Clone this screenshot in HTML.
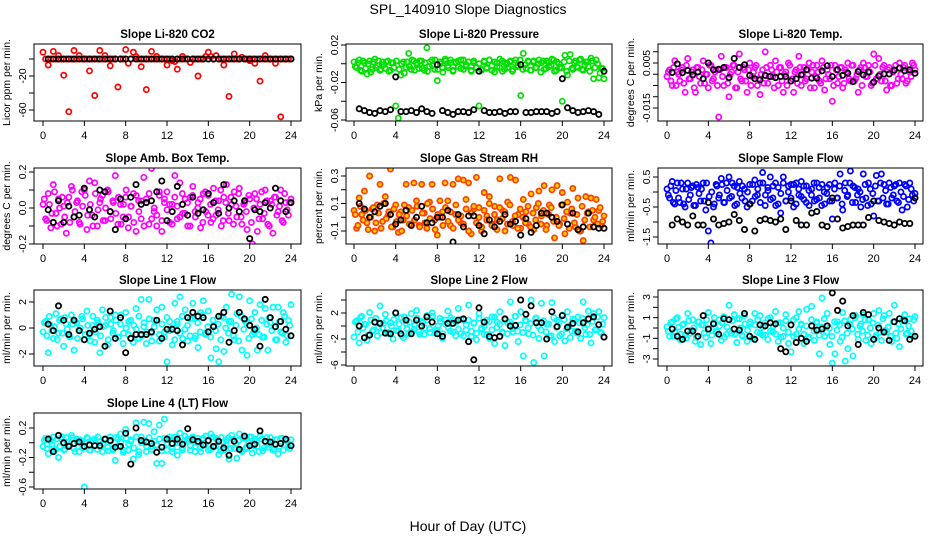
<!DOCTYPE html>
<html><head><meta charset="utf-8"><style>
html,body{margin:0;padding:0;background:#fff;}
svg{display:block;font-family:"Liberation Sans",sans-serif;}
</style></head><body>
<svg id="chart" width="936" height="540" viewBox="0 0 936 540" xmlns="http://www.w3.org/2000/svg">
<text x="468" y="14" text-anchor="middle" font-size="14">SPL_140910  Slope Diagnostics</text>
<text x="468" y="531" text-anchor="middle" font-size="14">Hour of Day (UTC)</text>
</svg>
<script>
// colored series A: values every 0.25 h from 0 to 24; series B: evenly offset between; black series: every 0.5 h from 0.5 to 24
const xTicks = [0,4,8,12,16,20,24];
const co2Red = [8,0,-7,0, 9,0,4,0, -19,0,-62,0, 10,0,4,0, 0,0,-14,0, -43,0,10,0, 4,0,-8,0, 0,-33,0,0, 11,-5,0,8, 3,0,-9,0, -36,0,9,0, 3,0,0,0, -7,0,-2,-3, -12,0,3,0, 0,-4,0,0, -20,0,0,3, 8,3,0,4, 0,0,-7,0, -44,0,6,0, 0,2,0,0, -2,0,-5,0, -26,0,4,0, 0,0,-5,0, -68,0,0,0, 0];
const co2RedB = [];
const co2Black = [0,0,0,0,0,0,0,0,0,0,0,0,0,0,0,0,0,0,0,0,0,0,0,0,0,0,0,0,0,0,0,0,0,0,0,0,0,0,0,0,0,0,0,0,0,0,0,0];
const presGreen = [0.002,-0.004,0.004,-0.008, 0.001,-0.011,0.003,-0.006, 0.005,-0.002,-0.007,0.002, -0.005,0.003,-0.007,0.001, -0.045,-0.058,-0.012,0.002, -0.004,0.011,-0.006,0.003, 0.001,-0.005,0.003,-0.007, 0.017,-0.003,0.004,-0.006, -0.018,0.002,-0.004,0.005, -0.002,0.004,-0.008,0.001, 0.003,-0.005,0.004,-0.003, 0.002,-0.007,0.001,-0.004, -0.045,-0.006,0.003,-0.004, 0.004,-0.007,0.002,-0.003, 0.005,-0.008,0.001,-0.004, 0.003,-0.006,0.004,-0.002, -0.034,0.011,-0.005,0.002, -0.007,0.003,-0.004,0.004, 0.001,-0.006,0.003,-0.003, 0.005,-0.008,0.002,-0.004, -0.04,0.009,-0.012,0.01, -0.006,0.003,-0.004,0.005, -0.007,0.002,-0.003,0.006, -0.016,0.004,-0.015,-0.005, -0.016];
const presGreenB = [-0.003,0.001,-0.007,0.003,-0.005,0.0,-0.009,0.002,-0.004,0.003,-0.006,-0.001,0.002,-0.008,0.001,-0.004,0.003,-0.006,0.0,-0.01,0.002,-0.003,0.004,-0.007,-0.001,0.003,-0.005,0.001,-0.008,0.002,-0.002,0.004,-0.006,0.0,-0.009,0.003,-0.004,0.001,-0.007,0.002,-0.003,0.004,-0.006,-0.001,0.002,-0.008,0.003,-0.004,0.0,-0.007,0.002,-0.005,0.004,-0.002,-0.009,0.001,-0.004,0.003,-0.006,0.0,0.002,-0.008,0.001,-0.003,0.004,-0.006,-0.001,0.003,-0.007,0.002,-0.004,0.0,-0.009,0.003,-0.005,0.001,-0.002,0.004,-0.007,0.0,-0.004,0.002,-0.008,0.003,-0.005,0.001,-0.003,0.004,-0.006,-0.001,0.002,-0.008,0.003,-0.004,0.0,-0.01,-0.005];
const presBlack = [-0.048,-0.05,-0.052,-0.053,-0.05,-0.051,-0.049,-0.014,-0.051,-0.051,-0.05,-0.052,-0.048,-0.051,-0.053,-0.001,-0.05,-0.052,-0.054,-0.051,-0.051,-0.052,-0.049,-0.008,-0.05,-0.052,-0.052,-0.051,-0.053,-0.051,-0.051,-0.001,-0.052,-0.052,-0.051,-0.051,-0.051,-0.053,-0.051,-0.016,-0.047,-0.05,-0.052,-0.051,-0.05,-0.051,-0.054,-0.008];
const tempMag = [-0.001,0.002,-0.005,0.006, 0.001,-0.003,0.003,-0.008, 0.007,-0.002,0.002,-0.008, 0.003,-0.004,0.006,0.000, -0.006,0.004,-0.002,0.002, -0.019,0.008,-0.005,0.003, -0.010,0.001,0.004,-0.006, 0.009,-0.003,0.002,-0.008, 0.005,-0.001,0.003,-0.005, -0.009,0.002,0.010,-0.004, 0.004,-0.001,0.006,-0.005, 0.003,-0.008,0.001,0.005, -0.003,-0.008,0.002,0.008, -0.005,0.003,-0.002,0.005, 0.001,-0.006,0.004,-0.003, 0.006,-0.007,0.002,-0.002, -0.012,0.004,-0.004,0.003, -0.006,0.002,0.005,-0.003, 0.004,-0.002,-0.008,0.003, 0.005,-0.001,0.004,-0.005, 0.009,-0.002,0.007,-0.003, 0.004,-0.007,0.003,-0.005, 0.002,-0.004,0.005,-0.002, 0.004,-0.003,0.001,0.005, 0.002];
const tempMagB = [0.001,-0.003,0.003,-0.005,0.0,0.002,-0.004,0.004,-0.002,0.001,-0.006,0.003,-0.001,0.002,-0.004,0.0,0.004,-0.003,0.001,-0.005,0.002,-0.001,0.003,-0.004,0.0,0.004,-0.006,0.001,-0.002,0.003,-0.003,0.002,-0.005,0.001,0.004,-0.002,0.0,-0.004,0.003,-0.001,0.002,-0.006,0.001,0.003,-0.003,0.0,-0.005,0.004,-0.002,0.001,-0.004,0.003,0.0,-0.003,0.002,-0.006,0.004,-0.001,0.001,-0.004,0.003,-0.002,0.0,0.004,-0.005,0.002,-0.001,0.003,-0.004,0.001,-0.002,0.004,-0.003,0.0,0.002,-0.005,0.003,-0.001,0.001,-0.004,0.004,-0.002,0.0,0.003,-0.003,0.002,-0.005,0.001,0.004,-0.002,0.0,0.003,-0.004,0.002,-0.001,0.004];
const tempBlack = [0.0008,0.0046,0.0007,0.0017,-0.0003,0.001,-0.002,0.005,0.002,0.0022,0.003,-0.0015,0.007,0.003,0.0042,-0.0005,-0.002,-0.0025,-0.0005,-0.001,-0.0015,-0.001,-0.001,-0.003,-0.002,-0.0003,0.002,-0.0017,-0.0017,0.0015,0.0038,-0.001,0.002,-0.0005,0.0005,-0.0033,0.0012,-0.0003,0.001,-0.0035,-0.0008,0.0001,0.0001,0.0018,0.0028,0.0016,0.002,0.0004];
const ambMag = [0.02,-0.06,0.08,-0.11, 0.13,-0.03,0.05,-0.09, 0.01,-0.14,0.06,0.12, -0.05,0.03,-0.08,0.09, 0.1,-0.12,0.15,-0.04, 0.14,-0.1,0.03,0.07, -0.07,0.1,-0.02,0.04, 0.18,-0.09,0.02,-0.05, 0.06,-0.11,0.01,0.08, -0.13,0.04,-0.06,0.17, 0.05,-0.09,0.22,-0.02, -0.1,0.07,-0.13,0.03, 0.09,-0.08,0.02,0.18, -0.06,0.14,-0.03,0.05, -0.1,0.06,0.12,-0.05, 0.03,-0.11,0.08,-0.02, 0.07,-0.08,0.11,-0.04, 0.04,-0.1,0.06,0.13, -0.07,0.02,0.09,-0.05, 0.11,-0.09,0.03,-0.12, 0.05,-0.2,0.08,-0.13, 0.02,-0.06,0.1,-0.09, 0.04,-0.14,0.06,-0.02, 0.1,-0.08,0.03,-0.04, 0.05];
const ambMagB = [0.05,-0.07,0.02,-0.03,0.09,-0.1,0.0,0.06,-0.05,0.03,-0.08,0.1,-0.02,0.04,-0.09,0.01,0.07,-0.04,0.02,-0.1,0.08,-0.01,0.05,-0.07,0.0,0.09,-0.06,0.03,-0.03,0.06,-0.09,0.02,0.1,-0.05,0.01,-0.08,0.07,-0.02,0.04,-0.1,0.03,0.08,-0.06,0.0,-0.04,0.09,-0.07,0.05,-0.01,0.02,-0.09,0.06,0.01,-0.05,0.08,-0.03,0.03,-0.1,0.07,-0.02,0.0,0.05,-0.08,0.09,-0.04,0.02,-0.06,0.04,-0.01,0.1,-0.07,0.03,-0.03,0.06,-0.09,0.01,0.08,-0.05,0.02,-0.02,0.07,-0.08,0.0,0.05,-0.06,0.09,-0.03,0.04,-0.1,0.02,0.06,-0.04,0.01,-0.07,0.08,-0.01,0.03];
const ambBlack = [-0.01,-0.08,0.04,-0.08,0.01,-0.05,-0.04,0.11,-0.01,-0.05,0.1,0.09,-0.02,-0.12,0.05,-0.06,0.06,0.13,0.02,0.03,0.04,0.09,0.15,-0.07,-0.02,0.12,0.02,-0.04,0.06,-0.03,-0.01,0.08,0.03,-0.03,0.13,0.0,0.04,-0.02,0.04,-0.17,-0.01,-0.02,0.03,0.0,0.11,0.04,-0.02,0.03];
const rhOrange = [0.05,-0.08,0.14,0.02, 0.19,-0.04,0.3,0.06, -0.1,0.09,0.24,-0.03, 0.15,0.01,0.35,-0.07, 0.09,-0.11,0.04,-0.02, 0.24,0.07,-0.05,0.25, 0.12,-0.06,0.24,0.03, -0.08,0.11,0.24,-0.02, -0.13,0.12,0.04,0.25, 0.12,-0.06,0.24,0.02, 0.28,-0.04,0.27,0.13, 0.25,-0.12,0.06,0.29, 0.07,-0.1,0.18,0.01, 0.15,-0.05,0.08,-0.02, 0.28,0.05,-0.1,0.11, 0.29,-0.06,0.27,0.02, -0.08,0.13,0.04,-0.05, 0.17,-0.09,0.07,0.19, 0.01,0.23,-0.06,0.09, 0.2,-0.15,0.23,-0.05, 0.18,-0.12,0.11,0.03, 0.21,-0.07,0.14,-0.1, -0.17,0.15,0.04,0.14, -0.02,0.13,0.05,-0.06, 0.01];
const rhOrangeB = [0.02,-0.06,0.08,-0.02,0.05,-0.09,0.0,0.07,-0.04,0.03,-0.08,0.1,-0.01,0.04,-0.07,0.06,-0.03,0.02,-0.1,0.09,0.01,-0.05,0.05,-0.02,0.08,-0.07,0.03,-0.04,0.1,-0.01,0.06,-0.09,0.02,0.0,-0.06,0.07,-0.03,0.04,-0.08,0.09,-0.02,0.01,-0.05,0.06,-0.1,0.03,0.08,-0.04,0.0,-0.07,0.05,-0.02,0.1,-0.06,0.02,-0.09,0.07,-0.01,0.04,-0.05,0.09,-0.03,0.01,-0.08,0.06,0.0,-0.04,0.08,-0.07,0.03,-0.02,0.1,-0.05,0.05,-0.09,0.02,0.07,-0.03,0.0,-0.06,0.09,-0.01,0.04,-0.08,0.06,-0.04,0.02,-0.1,0.08,-0.02,0.03,-0.07,0.05,0.0,-0.05,0.07,-0.03];
const rhBlack = [0.1,0.06,0.0,0.04,0.08,0.1,0.02,-0.05,-0.02,0.05,-0.06,0.0,0.08,-0.04,-0.04,0.0,0.0,0.05,-0.18,0.02,-0.07,0.01,0.01,-0.06,-0.12,-0.02,-0.07,-0.03,0.02,-0.05,-0.03,-0.13,-0.01,-0.11,-0.06,0.03,0.03,0.0,-0.03,0.09,-0.05,0.03,-0.09,-0.07,0.03,-0.07,-0.08,-0.08];
const sampleBlue = [0.1,-0.2,0.35,-0.4, 0.3,-0.35,0.1,-0.5, 0.3,-0.1,0.2,-0.45, 0.15,-0.3,0.3,-0.6, -1.3,-1.7,-0.5,0.25, -0.2,0.45,-0.35,0.3, 0.5,-0.15,0.2,-0.4, 0.35,-0.2,0.1,-0.5, 0.25,-0.3,0.4,-0.1, 0.3,0.65,-0.45,0.15, 0.5,-0.2,0.3,-0.4, -0.7,0.5,-0.3,0.2, 0.25,-0.5,0.3,-0.1, 0.35,-0.25,0.2,-0.45, 0.1,-0.3,0.3,-0.2, 0.25,-0.4,0.15,-0.3, -0.9,0.3,-0.2,0.6, -0.6,0.3,-0.1,0.7, 0.2,-0.35,0.1,-0.5, 0.6,-0.2,0.3,-0.4, -0.8,0.55,-0.3,0.6, 0.25,-0.4,0.3,-0.2, 0.2,-0.3,0.3,-0.6, 0.25,-0.5,0.3,-0.1, -0.05];
const sampleBlueB = [-0.1,0.2,-0.35,0.05,-0.2,0.3,-0.4,0.1,-0.25,0.15,-0.45,0.25,-0.05,0.1,-0.3,0.3,-0.15,0.0,-0.4,0.2,-0.1,0.25,-0.35,0.05,-0.2,0.3,-0.45,0.15,-0.05,0.2,-0.3,0.0,-0.4,0.25,-0.15,0.1,-0.35,0.3,-0.1,0.05,-0.25,0.2,-0.45,0.15,-0.05,0.3,-0.3,0.0,-0.2,0.25,-0.4,0.1,-0.15,0.2,-0.35,0.05,-0.1,0.3,-0.25,0.15,-0.45,0.0,-0.05,0.25,-0.3,0.1,-0.2,0.2,-0.4,0.05,-0.15,0.3,-0.35,0.15,-0.1,0.0,-0.25,0.25,-0.45,0.1,-0.05,0.2,-0.3,0.3,-0.2,0.05,-0.4,0.15,-0.1,0.25,-0.35,0.0,-0.15,0.2,-0.25,0.1,-0.3];
const sampleBlack = [-1.1,-0.9,-1.0,-1.1,-0.8,-1.1,-1.1,-0.35,-0.9,-1.1,-1.05,-1.0,-0.75,-0.95,-1.25,-0.4,-1.3,-0.95,-0.9,-0.95,-1.0,-0.9,-1.25,-0.3,-0.95,-1.1,-1.1,-0.7,-0.65,-1.1,-1.15,-0.2,-0.9,-1.2,-1.15,-1.1,-1.1,-1.1,-0.85,-0.3,-0.95,-1.0,-1.05,-1.1,-1.0,-1.05,-1.05,-0.2];
const line1Cyan = [-0.3,0.5,-1.9,0.2, -0.8,1.1,-0.4,0.7, -1.4,0.3,-0.6,1.0, -1.7,0.4,-0.2,0.9, -0.9,1.3,-0.5,0.2, -1.1,0.6,-1.9,1.4, 0.2,-1.3,0.8,-0.4, 1.0,-0.7,0.3,-1.2, 1.2,-0.5,0.6,-1.1, 1.5,-0.8,2.2,0.1, -1.2,2.2,-0.4,0.6, 1.4,-1.0,1.6,-0.3, -2.6,0.5,-1.3,1.9, 0.3,2.4,-0.8,1.4, -1.0,0.7,1.9,-0.6, -1.5,1.2,2.1,-0.4, 1.3,-2.3,0.2,-1.6, -2.6,0.9,-1.8,1.6, 0.5,2.6,-0.9,1.1, 2.4,-1.7,0.6,-2.1, 2.1,-0.5,1.2,-1.7, 1.8,-0.7,1.5,-1.7, 0.4,1.6,-0.9,1.6, -0.3,1.2,-1.1,0.6, 1.8];
const line1CyanB = [0.4,-0.6,0.9,-0.2,0.1,-0.9,0.6,-0.4,0.8,-0.1,-0.7,0.3,0.5,-0.8,0.0,0.7,-0.5,0.2,-1.0,0.9,-0.3,0.4,-0.6,0.1,0.8,-0.9,0.3,-0.2,0.6,-0.7,1.0,-0.4,0.0,0.5,-0.8,0.2,-0.1,0.9,-0.6,0.4,-0.3,0.7,-1.0,0.1,0.6,-0.5,0.3,-0.7,0.8,-0.2,0.0,-0.9,0.5,-0.4,0.9,-0.1,0.2,-0.6,0.7,-0.8,0.4,-0.3,1.0,-0.5,0.1,-0.7,0.6,-0.2,0.3,-0.9,0.8,0.0,-0.4,0.5,-0.6,0.2,-1.0,0.9,-0.1,0.4,-0.8,0.7,-0.3,0.0,-0.5,0.6,-0.7,0.3,0.8,-0.2,0.1,-0.9,0.5,-0.4,0.9,-0.6,0.2];
const line1Black = [0.3,-0.2,1.7,0.6,-0.5,0.6,-0.2,-0.9,-0.4,-0.1,0.1,-1.4,1.3,-0.8,0.8,-1.9,-0.8,-0.5,-0.5,-0.5,-0.3,0.6,-0.8,-0.1,-0.1,-0.2,-1.3,0.8,1.2,0.9,0.8,-0.3,0.1,0.9,1.2,-1.1,-0.2,1.2,0.7,0.2,-0.1,-1.4,2.2,0.8,0.1,0.5,-0.1,-0.6];
const line2Cyan = [-1.7,0.8,-2.6,1.5, 0.3,-2.2,2.1,-0.8, 0.6,-1.5,3.1,-0.3, 1.8,-1.0,0.5,-2.0, 2.1,-0.7,1.3,-1.8, 0.4,-1.2,1.9,-0.5, 2.4,-0.9,0.7,-1.3, 1.6,-0.4,2.0,-1.1, -0.6,1.2,-1.9,0.9, 2.3,-0.8,1.0,-1.5, 2.7,-1.2,1.1,-0.6, 3.2,-1.6,0.5,-2.1, 1.9,-0.5,-1.3,0.9, -1.9,1.4,-2.7,0.6, 2.2,-1.1,-3.0,0.5, 3.7,-0.9,1.5,-2.4, 2.2,-4.6,0.8,-1.2, 4.0,-5.6,1.2,-1.9, 3.5,-4.6,0.3,-1.6, 3.6,-2.4,0.9,-1.5, 1.7,-2.3,2.2,-1.8, 1.1,-0.8,1.4,-1.9, 3.7,-1.3,2.3,-2.6, 1.9,-0.5,2.2,-1.1, 1.3];
const line2CyanB = [0.6,-0.9,1.3,-0.3,0.2,-1.4,0.9,-0.6,1.2,-0.2,-1.0,0.4,0.8,-1.2,0.0,1.0,-0.7,0.3,-1.5,1.4,-0.4,0.6,-0.9,0.1,1.2,-1.3,0.5,-0.3,0.9,-1.0,1.5,-0.6,0.0,0.7,-1.2,0.3,-0.2,1.3,-0.9,0.6,-0.5,1.0,-1.5,0.2,0.9,-0.8,0.4,-1.1,1.2,-0.3,0.0,-1.3,0.7,-0.6,1.4,-0.2,0.3,-0.9,1.0,-1.2,0.6,-0.4,1.5,-0.8,0.2,-1.0,0.9,-0.3,0.4,-1.4,1.2,0.0,-0.6,0.8,-0.9,0.3,-1.5,1.3,-0.2,0.6,-1.2,1.0,-0.4,0.0,-0.8,0.9,-1.1,0.5,1.2,-0.3,0.2,-1.3,0.7,-0.6,1.4,-0.9,0.3];
const line2Black = [0.0,-1.8,-1.4,0.6,0.4,-1.1,-1.2,2.0,-1.2,0.9,-1.2,0.9,0.0,1.4,0.6,-1.2,-1.6,0.4,0.4,0.9,1.1,-2.4,-5.2,2.8,0.6,-1.6,-1.8,-1.6,1.1,0.0,0.1,4.0,1.8,3.1,0.5,0.5,-2.0,2.2,-0.1,1.6,-0.2,0.4,-0.9,0.5,1.1,1.4,0.2,-1.7];
const line3Cyan = [0.1,-0.8,0.6,-0.4, 1.0,-1.1,0.3,-0.7, 1.4,-0.5,0.8,-1.3, 0.6,-1.6,0.3,-0.9, 1.5,-1.5,0.5,-0.3, 0.8,-1.2,1.1,-0.6, 2.2,-0.5,1.3,-1.4, 0.9,-0.7,1.2,-1.3, 0.4,-1.0,1.4,-0.4, 1.2,-0.7,0.5,-1.1, 1.0,-0.4,1.6,-1.3, 0.5,-0.8,1.3,-1.5, -2.3,0.8,-0.6,1.6, 0.3,-1.5,1.8,-0.9, 2.1,-1.2,0.6,-2.5, 2.9,-0.8,1.4,-1.6, -3.4,-2.5,0.6,-1.3, 1.5,-3.2,-2.0,0.8, -2.7,1.2,-1.1,0.4, 1.3,-1.2,0.8,-1.5, 1.4,-0.7,1.7,-1.2, 1.2,-0.4,1.4,-1.3, 2.2,-1.0,-1.8,0.7, 1.3,-0.5,0.9,-0.8, 1.1];
const line3CyanB = [-0.3,0.5,-0.8,0.9,0.1,-0.6,0.4,-1.0,0.7,-0.2,0.0,-0.9,0.6,0.3,-0.5,0.8,-0.1,-0.7,1.0,-0.4,0.2,0.5,-0.9,0.1,-0.3,0.7,-0.6,0.9,0.0,-0.8,0.4,-0.2,0.6,-1.0,0.3,0.8,-0.5,0.1,-0.7,0.9,-0.3,0.2,-0.6,0.5,-0.9,0.0,0.7,-0.4,0.3,-0.8,1.0,-0.1,0.4,-0.6,0.2,-1.0,0.8,-0.3,0.5,-0.7,0.1,0.9,-0.4,0.0,-0.8,0.6,-0.2,0.3,-0.9,0.7,-0.5,0.4,-0.1,1.0,-0.6,0.2,-0.3,0.8,-0.7,0.0,0.5,-0.9,0.3,-0.4,0.9,-0.2,0.1,-0.8,0.6,-0.5,0.4,-0.1,0.7,-0.6,0.2,-0.3,0.8];
const line3Black = [-0.1,-0.8,-1.1,-0.3,-0.3,-0.8,1.2,-0.1,0.4,-0.6,0.9,0.8,-0.1,-0.2,1.4,-0.8,-1.1,0.3,0.2,0.5,0.4,-2.0,-2.3,0.3,-1.4,-1.0,-1.3,0.2,-0.2,-0.1,0.2,3.4,1.7,2.6,0.2,1.2,-1.6,1.5,1.3,-1.1,0.0,-0.4,-1.2,0.6,0.9,0.7,-1.1,-0.8];
const line4Cyan = [-0.05,0.06,-0.15,0.02, 0.08,-0.09,-0.2,0.05, -0.1,0.07,-0.03,0.1, -0.08,0.05,-0.12,0.02, -0.6,0.07,-0.1,0.03, 0.05,-0.09,0.01,-0.12, 0.04,-0.06,0.08,-0.1, -0.24,0.05,0.12,-0.13, 0.18,-0.1,0.02,-0.22, 0.27,-0.16,0.08,0.28, -0.12,0.26,-0.05,0.15, -0.28,0.24,-0.28,0.32, -0.1,0.08,-0.12,0.04, -0.17,0.13,-0.07,0.09, 0.02,-0.1,0.08,-0.05, 0.06,-0.12,0.04,0.09, -0.1,0.12,-0.06,0.06, -0.16,0.07,-0.1,0.03, -0.22,0.1,-0.08,-0.21, 0.12,-0.12,0.06,-0.08, 0.08,-0.14,0.05,-0.05, 0.09,-0.11,0.02,-0.06, 0.07,-0.1,0.04,-0.15, 0.06,-0.1,0.03,-0.05, 0.04];
const line4CyanB = [0.03,-0.08,0.06,-0.02,-0.11,0.05,-0.05,0.08,-0.09,0.01,-0.04,0.07,-0.12,0.02,0.04,-0.07,0.0,0.06,-0.1,0.03,-0.03,0.08,-0.06,-0.01,0.05,-0.11,0.02,-0.08,0.07,-0.04,0.01,-0.1,0.06,-0.02,0.04,-0.07,0.08,-0.12,0.0,0.03,-0.05,0.07,-0.09,0.02,-0.03,0.05,-0.11,0.06,-0.01,0.04,-0.08,0.08,-0.06,0.01,-0.1,0.03,0.05,-0.04,0.07,-0.12,0.0,-0.07,0.06,-0.02,0.02,-0.09,0.08,-0.05,0.04,-0.11,0.01,-0.03,0.07,-0.08,0.05,-0.01,0.03,-0.1,0.06,-0.06,0.0,0.08,-0.04,0.02,-0.12,0.05,-0.07,0.07,-0.02,0.01,-0.09,0.04,-0.05,0.06,-0.03,0.03,-0.08];
const line4Black = [0.05,-0.12,0.1,0.0,-0.05,-0.01,0.01,-0.05,-0.03,-0.04,-0.04,0.05,0.03,-0.06,-0.05,0.13,-0.29,0.2,0.03,0.01,-0.01,-0.13,-0.06,0.05,-0.01,0.05,-0.02,0.19,0.04,0.02,-0.03,0.03,-0.05,0.02,-0.07,-0.17,0.02,-0.09,0.09,-0.04,-0.02,0.16,0.02,0.01,-0.02,-0.01,0.05,-0.04];

const panels = [
 {name:'co2',title:'Slope Li-820 CO2',ylab:'Licor ppm per min.',col:0,row:0,y0:0,p0:59,y1:-60,p1:110,ticks:[0,-20,-40,-60],labels:['','-20','','-60'],color:'#ff0000',vals:co2Red,valsB:co2RedB,blk:co2Black,fill:'none',fs:10.5},
 {name:'pressure',title:'Slope Li-820 Pressure',ylab:'kPa per min.',col:1,row:0,y0:0.02,p0:45,y1:-0.06,p1:120,ticks:[0.02,0,-0.02,-0.04,-0.06],labels:['0.02','','-0.02','','-0.06'],color:'#00e000',vals:presGreen,valsB:presGreenB,blk:presBlack,fill:'none',fs:10.5},
 {name:'temp',title:'Slope Li-820 Temp.',ylab:'degrees C per min.',col:2,row:0,y0:0.005,p0:63,y1:-0.015,p1:108,ticks:[0.01,0.005,0,-0.005,-0.01,-0.015],labels:['','0.005','','','','-0.015'],color:'#ff00ff',vals:tempMag,valsB:tempMagB,blk:tempBlack,fill:'none',fs:10.5},
 {name:'amb-temp',title:'Slope Amb. Box Temp.',ylab:'degrees C per min.',col:0,row:1,y0:0.2,p0:172,y1:-0.2,p1:244,ticks:[0.2,0.1,0,-0.1,-0.2],labels:['0.2','','0.0','','-0.2'],color:'#ff00ff',vals:ambMag,valsB:ambMagB,blk:ambBlack,fill:'none',fs:10.5},
 {name:'rh',title:'Slope Gas Stream RH',ylab:'percent per min.',col:1,row:1,y0:0.3,p0:176,y1:-0.1,p1:231,ticks:[0.3,0.2,0.1,0,-0.1],labels:['0.3','','0.1','','-0.1'],color:'#ff4000',vals:rhOrange,valsB:rhOrangeB,blk:rhBlack,fill:'#ffd000',fs:10.5},
 {name:'sample-flow',title:'Slope Sample Flow',ylab:'ml/min per min.',col:2,row:1,y0:0.5,p0:177,y1:-1.5,p1:237,ticks:[0.5,0,-0.5,-1,-1.5],labels:['0.5','','-0.5','','-1.5'],color:'#0000ff',vals:sampleBlue,valsB:sampleBlueB,blk:sampleBlack,fill:'none',fs:10.5},
 {name:'line1',title:'Slope Line 1 Flow',ylab:'ml/min per min.',col:0,row:2,y0:2,p0:302,y1:-2,p1:354,ticks:[2,0,-2],labels:['2','0','-2'],color:'#00ffff',vals:line1Cyan,valsB:line1CyanB,blk:line1Black,fill:'none',fs:10.5},
 {name:'line2',title:'Slope Line 2 Flow',ylab:'ml/min per min.',col:1,row:2,y0:2,p0:313,y1:-2,p1:339,ticks:[4,2,0,-2,-4,-6],labels:['','2','','-2','','-6'],color:'#00ffff',vals:line2Cyan,valsB:line2CyanB,blk:line2Black,fill:'none',fs:10.5},
 {name:'line3',title:'Slope Line 3 Flow',ylab:'ml/min per min.',col:2,row:2,y0:3,p0:297,y1:-3,p1:359,ticks:[3,2,1,0,-1,-2,-3],labels:['3','','1','','-1','','-3'],color:'#00ffff',vals:line3Cyan,valsB:line3CyanB,blk:line3Black,fill:'none',fs:10.5},
 {name:'line4',title:'Slope Line 4 (LT) Flow',ylab:'ml/min per min.',col:0,row:3,y0:0.2,p0:428,y1:-0.6,p1:487,ticks:[0.2,0,-0.2,-0.4,-0.6],labels:['0.2','','-0.2','','-0.6'],color:'#00ffff',vals:line4Cyan,valsB:line4CyanB,blk:line4Black,fill:'none',fs:10.5}
];
const colL=[34,346,658], colR=[301,612,923], colX0=[43,354,667], colX24=[291,604,915];
const rowT=[44,168,290,413], rowB=[121,244,366,489];
const NS='http://www.w3.org/2000/svg';
const svg=document.getElementById('chart');
function mk(tag,attrs,parent){const e=document.createElementNS(NS,tag);for(const k in attrs)e.setAttribute(k,attrs[k]);(parent||svg).appendChild(e);return e;}
panels.forEach(p=>{
  const L=colL[p.col],R=colR[p.col],T=rowT[p.row],B=rowB[p.row];
  const xs=h=>colX0[p.col]+(colX24[p.col]-colX0[p.col])*h/24;
  const ys=v=>p.p0+(v-p.y0)*(p.p1-p.p0)/(p.y1-p.y0);
  const g=mk('g',{});
  
  
  const cp=mk('clipPath',{id:'clip-'+p.name},g);
  mk('rect',{x:L,y:T,width:R-L,height:B-T},cp);
  const t=mk('text',{x:(L+R)/2,y:T-6,'text-anchor':'middle','font-size':'11.5','font-weight':'bold'},g);
  t.textContent=p.title;
  
  
  const yl=mk('text',{transform:`translate(${L-24},${(T+B)/2}) rotate(-90)`,'text-anchor':'middle','font-size':'10.5'},g);
  yl.textContent=p.ylab;
  
  
  const pts=mk('g',{'clip-path':`url(#clip-${p.name})`},g);
  
  
  p.vals.forEach((v,i)=>{
    const c=mk('circle',{cx:xs(i*24/(p.vals.length-1)).toFixed(1),cy:ys(v).toFixed(1),r:2.6,fill:p.fill,stroke:p.color,'stroke-width':1.7},pts);
    
    
  });
  p.valsB.forEach((v,i)=>{
    const c=mk('circle',{cx:xs((i+0.5)*24/p.valsB.length).toFixed(1),cy:ys(v).toFixed(1),r:2.6,fill:p.fill,stroke:p.color,'stroke-width':1.7},pts);
    
    
  });
  p.blk.forEach((v,i)=>{
    const c=mk('circle',{cx:xs(0.5+i*23.5/(p.blk.length-1)).toFixed(1),cy:ys(v).toFixed(1),r:2.6,fill:'none',stroke:'#000','stroke-width':1.8},pts);
    
    
  });
  const box=mk('rect',{x:L,y:T,width:R-L,height:B-T,fill:'none',stroke:'#000','stroke-width':1},g);
  
  
  xTicks.forEach(h=>{
    mk('line',{x1:xs(h),x2:xs(h),y1:B,y2:B+5,stroke:'#000'},g);
    const tx=mk('text',{x:xs(h),y:B+18,'text-anchor':'middle','font-size':'11'},g);
    tx.textContent=h;
    
    
  });
  p.ticks.forEach((v,i)=>{
    const y=ys(v);
    mk('line',{x1:L-5,x2:L,y1:y,y2:y,stroke:'#000'},g);
    if(p.labels[i]){
      const tl=mk('text',{transform:`translate(${L-8},${y}) rotate(-90)`,'text-anchor':'middle','font-size':p.fs},g);
      tl.textContent=p.labels[i];
      
      
    }
  });
});
</script>
</body></html>
